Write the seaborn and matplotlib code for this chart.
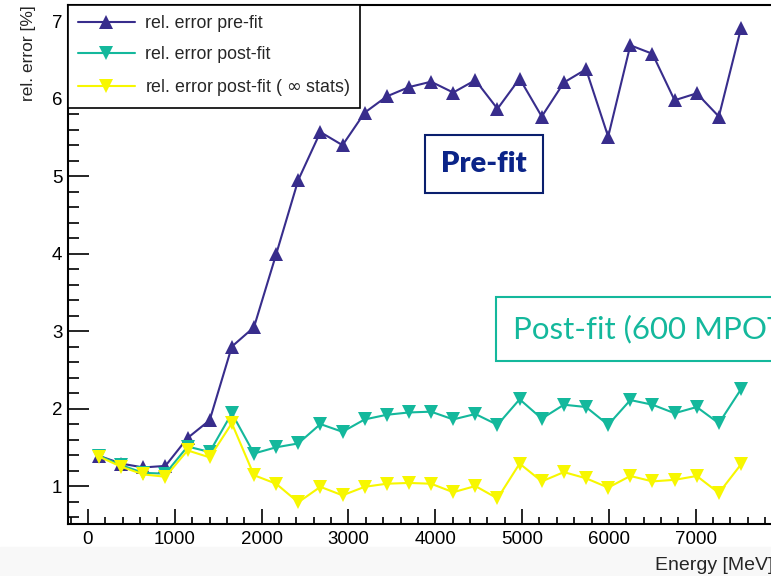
import numpy as np
import matplotlib
matplotlib.use("Agg")
import matplotlib.pyplot as plt
import seaborn as sns
from matplotlib.ticker import MultipleLocator
from matplotlib.patches import Rectangle

# bin centres in MeV
energy = [127 + 255 * i for i in range(30)]

pre_fit = [1.39, 1.29, 1.24, 1.26, 1.62, 1.85, 2.80, 3.05, 3.99, 4.95,
           5.57, 5.40, 5.82, 6.03, 6.15, 6.22, 6.08, 6.24, 5.87, 6.26,
           5.77, 6.21, 6.38, 5.51, 6.69, 6.58, 5.98, 6.07, 5.77, 6.91]
post_fit = [1.39, 1.27, 1.17, 1.16, 1.51, 1.44, 1.94, 1.42, 1.50, 1.55,
            1.80, 1.70, 1.86, 1.92, 1.95, 1.96, 1.86, 1.93, 1.79, 2.12,
            1.87, 2.05, 2.02, 1.79, 2.11, 2.05, 1.94, 2.02, 1.81, 2.25]
post_fit_inf = [1.38, 1.25, 1.15, 1.12, 1.46, 1.37, 1.81, 1.14, 1.03, 0.79,
                0.99, 0.88, 0.99, 1.03, 1.04, 1.03, 0.92, 1.00, 0.84, 1.29,
                1.06, 1.18, 1.10, 0.98, 1.13, 1.06, 1.08, 1.13, 0.91, 1.28]

labels = ["rel. error pre-fit", "rel. error post-fit", "rel. error post-fit ( $\\infty$ stats)"]

sns.set_style("ticks")
plt.rcParams['font.family'] = ['Liberation Sans', 'DejaVu Sans']
plt.rcParams['mathtext.fontset'] = 'dejavusans'

fig = plt.figure(figsize=(7.71, 5.76), dpi=100)
fig.patches.append(Rectangle((0, 0), 1, 29 / 576, transform=fig.transFigure,
                             color='#f8f8f8', zorder=-10))
ax = fig.add_axes([68 / 771, 52 / 576, 708 / 771, 519 / 576])

sns.lineplot(x=energy, y=pre_fit, ax=ax, color='#382d8c', marker='^', ms=10,
             mew=0, lw=1.5, label=labels[0])
sns.lineplot(x=energy, y=post_fit, ax=ax, color='#14b89c', marker='v', ms=10,
             mew=0, lw=1.5, label=labels[1])
sns.lineplot(x=energy, y=post_fit_inf, ax=ax, color='#f7f700', marker='v', ms=10,
             mew=0, lw=1.5, label=labels[2])

ax.set_xlim(-230, 7925)
ax.set_ylim(0.51, 7.21)
ax.xaxis.set_major_locator(MultipleLocator(1000))
ax.xaxis.set_minor_locator(MultipleLocator(200))
ax.yaxis.set_major_locator(MultipleLocator(1))
ax.yaxis.set_minor_locator(MultipleLocator(0.2))
ax.tick_params(axis='both', which='both', direction='in', labelsize=13.5,
               colors='black', width=1.2)
ax.tick_params(axis='x', which='major', length=11, pad=5)
ax.tick_params(axis='x', which='minor', length=5)
ax.tick_params(axis='y', which='major', length=15, pad=4)
ax.tick_params(axis='y', which='minor', length=8)
for sp in ax.spines.values():
    sp.set_linewidth(1.5)
    sp.set_color('black')

ax.set_xlabel("Energy [MeV]", fontsize=14, ha='right')
ax.xaxis.set_label_coords(705 / 708, -0.063)
ax.set_ylabel("rel. error [%]", fontsize=12.5, ha='right')
ax.yaxis.set_label_coords(-0.045, 1.0)

leg = ax.legend(loc='upper left', bbox_to_anchor=(0, 1), borderaxespad=0,
                fancybox=False, edgecolor='black', framealpha=1, fontsize=12.8,
                handlelength=3.2, handletextpad=0.6, labelspacing=0.8,
                borderpad=0.55, numpoints=1)
leg.get_frame().set_linewidth(1.2)

fig.text(484 / 771, 1 - 164 / 576, "Pre-fit", fontsize=21, fontweight='heavy',
         family='Lato', color='#0b2488', ha='center', va='center',
         bbox=dict(boxstyle='square,pad=0.55', fc='white', ec='#0a1f6e', lw=1.5))
fig.text(513 / 771, 1 - 329 / 576, "Post-fit (600 MPOT)", fontsize=22.5,
         family='Lato', color='#14b89c', ha='left', va='center',
         bbox=dict(boxstyle='square,pad=0.55', fc='white', ec='#14b89c', lw=1.5))

fig.savefig("out.png", dpi=100)
